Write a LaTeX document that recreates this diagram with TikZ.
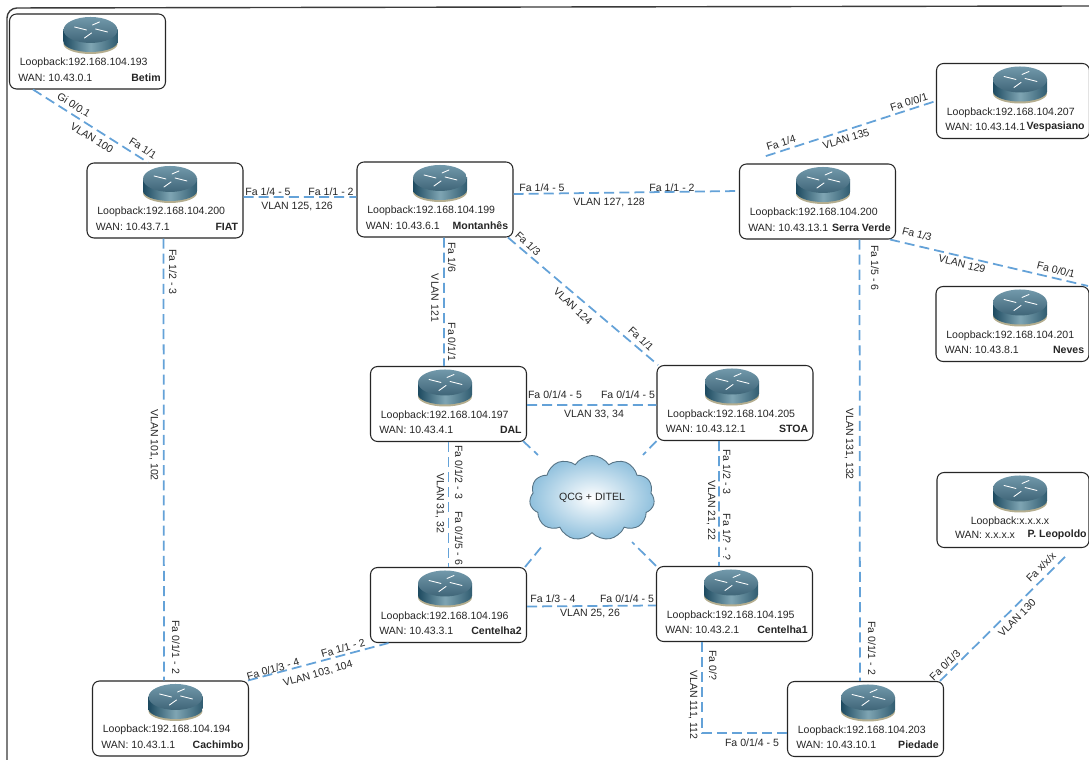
\documentclass[tikz,border=0pt]{standalone}
\usepackage{fontspec}
\setmainfont{Liberation Sans}
\usepackage{xcolor}
\usetikzlibrary{shapes.symbols}

\definecolor{linkblue}{HTML}{64A2D8}
\definecolor{framegray}{HTML}{3A3A3A}
\definecolor{routerdark}{HTML}{1D4A60}
\definecolor{routerlight}{HTML}{7FA5B3}
\definecolor{routertop}{HTML}{4F7F96}
\definecolor{routerbase}{HTML}{B5AE8F}
\definecolor{cloudblue}{HTML}{8FC0DD}

\tikzset{
  routerbox/.style={draw=black!85, line width=.6pt, rounded corners=.14cm, minimum width=3.12cm, minimum height=1.5cm, inner sep=0pt},
  iptext/.style={font=\fontsize{6}{7}\selectfont, text=black!85, inner sep=0pt},
  sitetext/.style={iptext, font=\fontsize{6}{7}\selectfont\bfseries},
  portlabel/.style={iptext},
  vlanlink/.style={draw=linkblue, line width=1pt, dash pattern=on 5.7pt off 2.9pt},
  pics/router/.style={code={
    \fill[routerbase] (0,27) ellipse [x radius=.54cm, y radius=.2cm];
    \shade[left color=routerdark, right color=routerdark!80!routerlight, middle color=routerlight] (0,25) ellipse [x radius=.54cm, y radius=.2cm];
    \shade[left color=routerdark, right color=routerdark!80!routerlight, middle color=routerlight] (-27,13) rectangle (27,25);
    \shade[top color=routertop!80!white, bottom color=routertop!80!black] (0,13) ellipse [x radius=.54cm, y radius=.26cm];
    \draw[white, line width=.5pt, line cap=round] (-16,10) -- (-4,13) (2,8) -- (9,5) (5,12) -- (17,15) (-6,21) -- (1,16);
  }},
}

% box, icon and the two text rows of one site
\newcommand{\siterouter}[7][]{
  \node[routerbox,#1] (#2) at (#3) {};
  \pic at ([xshift=#4,yshift=-.07cm]#2.north) {router};
  \node[iptext,anchor=west] (#2-lo) at ([xshift=.21cm,yshift=.53cm]#2.south west) {Loopback:#5};
  \node[iptext,anchor=west] (#2-wan) at ([xshift=.18cm,yshift=.24cm]#2.south west) {WAN: #6};
  \node[sitetext,anchor=east] (#2-name) at ([xshift=-.1cm,yshift=.24cm]#2.south east) {#7};
}

\begin{document}
\begin{tikzpicture}[x=.02cm,y=-.02cm]
  \useasboundingbox (0,0) rectangle (1089,760);
  \fill[white] (0,0) rectangle (1089,760);
  % outer frame
  \draw[framegray, line width=.8pt, rounded corners=.2cm] (7,760) -- (7,8) -- (1089,6);

  % routers
  \siterouter{betim}{87.5,51.5}{.06cm}{192.168.104.193}{10.43.0.1}{Betim}
  \siterouter{fiat}{165,200.5}{.1cm}{192.168.104.200}{10.43.7.1}{FIAT}
  \siterouter{mont}{435,199.5}{.1cm}{192.168.104.199}{10.43.6.1}{Montanhês}
  \siterouter{serra}{817.5,201.5}{.11cm}{192.168.104.200}{10.43.13.1}{Serra Verde}
  \siterouter[minimum width=3.06cm]{vesp}{1013,101}{.14cm}{192.168.104.207}{10.43.14.1}{Vespasiano}
  \siterouter[minimum width=3.06cm]{neves}{1012.5,324}{.15cm}{192.168.104.201}{10.43.8.1}{Neves}
  \siterouter{dal}{448.5,404}{-.07cm}{192.168.104.197}{10.43.4.1}{DAL}
  \siterouter{stoa}{735,403}{-.06cm}{192.168.104.205}{10.43.12.1}{STOA}
  \siterouter{centB}{448.5,605}{-.07cm}{192.168.104.196}{10.43.3.1}{Centelha2}
  \siterouter{centA}{734.5,604}{-.07cm}{192.168.104.195}{10.43.2.1}{Centelha1}
  \siterouter{cach}{170.5,718.5}{.1cm}{192.168.104.194}{10.43.1.1}{Cachimbo}
  \siterouter{pied}{865.5,719}{.05cm}{192.168.104.203}{10.43.10.1}{Piedade}

  \node[routerbox,minimum width=3.04cm] (leop) at (1013,510) {};
  \pic at ([xshift=.14cm,yshift=-.07cm]leop.north) {router};
  \node[iptext] (leop-lo) at (1010,522) {Loopback:x.x.x.x};
  \node[iptext] (leop-wan) at (985,535) {WAN: x.x.x.x};
  \node[sitetext,anchor=east] (leop-name) at (1087,535) {P. Leopoldo};

  % cloud
  \node[cloud, cloud puffs=11, cloud puff arc=115, aspect=1.5, minimum width=2.5cm, minimum height=1.7cm, inner sep=0pt, draw=cloudblue!60!black, line width=.5pt, inner color=white, outer color=cloudblue, iptext] (qcg) at (592,498) {QCG + DITEL};
  \coordinate (qcg-nw) at (538,455);
  \coordinate (qcg-ne) at (643,455);
  \coordinate (qcg-sw) at (543,545);
  \coordinate (qcg-se) at (632,542);

  % links
  \draw[vlanlink] ([xshift=-1.09cm]betim.south) -- ([xshift=-.34cm]fiat.north);
  \draw[vlanlink] ([yshift=.07cm]fiat.east) -- ([yshift=.05cm]mont.west);
  \draw[vlanlink] ([yshift=.11cm]mont.east) -- ([yshift=.21cm]serra.west);
  \draw[vlanlink, shorten <=.48cm] ([xshift=-1.49cm]serra.north) -- (vesp.west);
  \draw[vlanlink] ([xshift=1.45cm]serra.south) -- ([xshift=1.51cm]neves.north);
  \draw[vlanlink] ([xshift=.84cm]serra.south) -- ([xshift=-.11cm]pied.north);
  \draw[vlanlink] ([xshift=.18cm]mont.south) -- ([xshift=-.09cm]dal.north);
  \draw[vlanlink] ([xshift=1.46cm]mont.south) -- ([xshift=-1.54cm]stoa.north);
  \draw[vlanlink] ([yshift=-.02cm]dal.east) -- ([yshift=-.04cm]stoa.west);
  \draw[vlanlink] ([xshift=-.03cm]fiat.south) -- ([xshift=-.13cm]cach.north);
  \draw[vlanlink] (dal.south) -- (centB.north);
  \draw[vlanlink] ([xshift=-.32cm]stoa.south) -- ([xshift=-.31cm]centA.north);
  \draw[vlanlink] ([yshift=-.03cm]centB.east) -- ([yshift=-.03cm]centA.west);
  \draw[vlanlink] ([xshift=1.55cm]cach.north) -- ([xshift=-1.2cm]centB.south);
  \draw[vlanlink] ([xshift=-.65cm]centA.south) |- ([yshift=-.28cm]pied.west);
  \draw[vlanlink, shorten >=.2cm] ([xshift=1.49cm]pied.north) -- ([xshift=1.22cm]leop.south);
  \draw[vlanlink] ([xshift=-.08cm,yshift=.02cm]dal.south east) -- (qcg-nw);
  \draw[vlanlink] (stoa.south west) -- (qcg-ne);
  \draw[vlanlink] ([xshift=-.04cm]centB.north east) -- (qcg-sw);
  \draw[vlanlink] (centA.north west) -- (qcg-se);

  % port and vlan labels
  \node[portlabel,rotate=-32] (l1) at (74,105) {Gi 0/0.1};
  \node[portlabel,rotate=-32] (l2) at (92,138) {VLAN 100};
  \node[portlabel,rotate=-32] (l3) at (143,148) {Fa 1/1};
  \node[portlabel] (l4) at (268,192) {Fa 1/4 - 5};
  \node[portlabel] (l5) at (331,192) {Fa 1/1 - 2};
  \node[portlabel] (l6) at (297,206) {VLAN 125, 126};
  \node[portlabel] (l7) at (542,188) {Fa 1/4 - 5};
  \node[portlabel] (l8) at (672,188) {Fa 1/1 - 2};
  \node[portlabel] (l9) at (609,202) {VLAN 127, 128};
  \node[portlabel,rotate=-90] (l10) at (452,257) {Fa 1/6};
  \node[portlabel,rotate=-90] (l11) at (435,298) {VLAN 121};
  \node[portlabel,rotate=-90] (l12) at (452,342) {Fa 0/1/1};
  \node[portlabel,rotate=-43] (l13) at (528,244) {Fa 1/3};
  \node[portlabel,rotate=-43] (l14) at (573,306) {VLAN 124};
  \node[portlabel,rotate=-43] (l15) at (641,339) {Fa 1/1};
  \node[portlabel,rotate=17] (l16) at (781,143) {Fa 1/4};
  \node[portlabel,rotate=17] (l17) at (846,139) {VLAN 135};
  \node[portlabel,rotate=17] (l18) at (909,102) {Fa 0/0/1};
  \node[portlabel,rotate=-14] (l19) at (917,234) {Fa 1/3};
  \node[portlabel,rotate=-14] (l20) at (962,264) {VLAN 129};
  \node[portlabel,rotate=-14] (l21) at (1056,270) {Fa 0/0/1};
  \node[portlabel,rotate=-90] (l22) at (875,268) {Fa 1/5 - 6};
  \node[portlabel,rotate=-90] (l23) at (849,444) {VLAN 131, 132};
  \node[portlabel,rotate=-90] (l24) at (872,648) {Fa 0/1/1 - 2};
  \node[portlabel,rotate=45] (l25) at (945,665) {Fa 0/1/3};
  \node[portlabel,rotate=45] (l26) at (1017,618) {VLAN 130};
  \node[portlabel,rotate=45] (l27) at (1041,567) {Fa x/x/x};
  \node[portlabel] (l28) at (752,743) {Fa 0/1/4 - 5};
  \node[portlabel,rotate=-90] (l29) at (713,665) {Fa 0/?};
  \node[portlabel,rotate=-90] (l30) at (693,705) {VLAN 111, 112};
  \node[portlabel] (l31) at (555,395) {Fa 0/1/4 - 5};
  \node[portlabel] (l32) at (628,395) {Fa 0/1/4 - 5};
  \node[portlabel] (l33) at (594,414) {VLAN 33, 34};
  \node[portlabel,rotate=-90] (l34) at (459,472) {Fa 0/1/2 - 3};
  \node[portlabel,rotate=-90] (l35) at (459,538) {Fa 0/1/5 - 6};
  \node[portlabel,rotate=-90] (l36) at (440,503) {VLAN 31, 32};
  \node[portlabel,rotate=-90] (l37) at (727,472) {Fa 1/2 - 3};
  \node[portlabel,rotate=-90] (l38) at (727,537) {Fa 1/? - ?};
  \node[portlabel,rotate=-90] (l39) at (711,510) {VLAN 21, 22};
  \node[portlabel] (l40) at (553,599) {Fa 1/3 - 4};
  \node[portlabel] (l41) at (627,599) {Fa 0/1/4 - 5};
  \node[portlabel] (l42) at (590,613) {VLAN 25, 26};
  \node[portlabel,rotate=16] (l43) at (273,669) {Fa 0/1/3 - 4};
  \node[portlabel,rotate=16] (l44) at (343,648) {Fa 1/1 - 2};
  \node[portlabel,rotate=16] (l45) at (318,674) {VLAN 103, 104};
  \node[portlabel,rotate=-90] (l46) at (176,647) {Fa 0/1/1 - 2};
  \node[portlabel,rotate=-90] (l47) at (173,272) {Fa 1/2 - 3};
  \node[portlabel,rotate=-90] (l48) at (154,445) {VLAN 101, 102};
\end{tikzpicture}
\end{document}
